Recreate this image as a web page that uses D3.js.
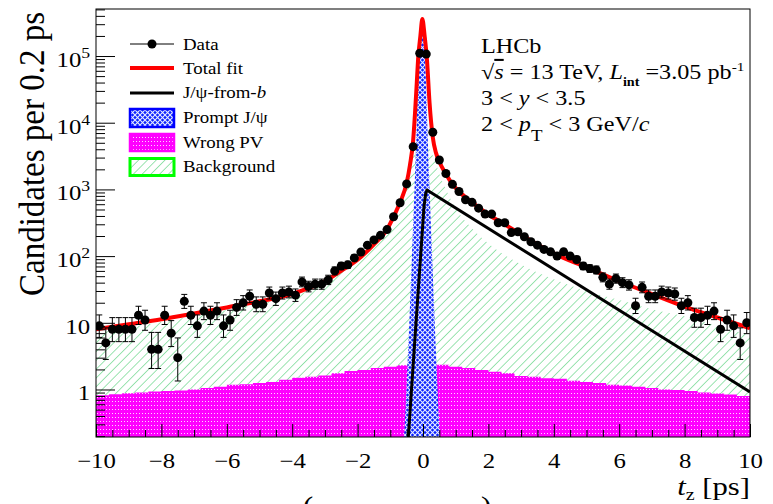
<!DOCTYPE html>
<html>
<head>
<meta charset="utf-8">
<script src="https://cdn.jsdelivr.net/npm/d3@7"></script>
<style>
  body { margin: 0; background: #fff; }
  svg { display: block; font-family: "Liberation Serif", "DejaVu Serif", serif; }
</style>
</head>
<body>
<script>
//-----------------Data----------------

// candidates per 0.2 ps bin, bins from -10 to 10 ps
const tzStart = -10;
const binWidth = 0.2;
const candidates = [
  9, 5, 8, 8, 8, 8, 13, 11, 4, 4,
  13, 7, 3, 21, 13, 9, 15, 13, 15, 9,
  11, 17, 20, 25, 19, 19, 28, 23, 28, 29,
  26, 41, 35, 38, 38, 44, 60, 71, 74, 94,
  115, 146, 175, 205, 250, 389, 630, 1210, 4380, 110000,
  107000, 7200, 2760, 1730, 1190, 930, 700, 640, 523, 427,
  427, 316, 316, 225, 232, 195, 164, 146, 126, 116,
  100, 116, 100, 89, 71, 65, 62, 48, 38, 46,
  40, 37, 18, 34, 25, 25, 29, 28, 27, 18,
  20, 12, 12, 13, 15, 8, 11, 9, 5, 10
];

// total fit
const fitT = [-10, -9, -8, -7, -6, -5, -4, -3.5, -3, -2.5, -2, -1.5, -1.1, -0.9, -0.7, -0.5, -0.4, -0.3, -0.24, -0.19, -0.15, -0.08, -0.02, 0.05, 0.12, 0.2, 0.3, 0.4, 0.5, 0.7, 0.9, 1.1, 1.5, 2, 2.5, 3, 3.5, 4, 5, 6, 7, 8, 9, 10];
const fitV = [8, 9.5, 11.3, 13.8, 17, 21, 27, 33, 42, 60, 88, 150, 250, 390, 640, 1250, 2300, 5500, 15000, 40000, 90000, 200000, 360000, 200000, 90000, 20000, 6000, 3500, 2600, 1700, 1200, 930, 640, 420, 300, 210, 150, 110, 68, 42, 27, 17.5, 12, 8.3];

// J/psi-from-b
const fromBT = [-0.55, -0.45, -0.25, -0.04, 0.03, 0.08, 0.12, 10];
const fromBV = [0.08, 0.19, 5.5, 172, 550, 850, 980, 0.92];

// prompt J/psi
const promptT = [-0.63, -0.58, -0.48, -0.38, -0.285, -0.21, -0.145, -0.1, -0.03, 0.04, 0.085, 0.15, 0.225, 0.32, 0.42, 0.52, 0.57];
const promptV = [0.08, 0.19, 2, 30, 490, 4900, 49000, 150000, 350000, 150000, 49000, 4900, 490, 30, 2, 0.19, 0.08];

// background
const bgT = [-10, -9, -8, -7, -6, -5, -4, -3, -2.5, -2, -1.5, -1, -0.7, -0.5, -0.4, -0.3, -0.2, -0.1, 0, 0.1, 0.2, 0.3, 0.4, 0.5, 0.7, 1, 1.5, 2, 3, 4, 5, 6, 7, 8, 9, 10];
const bgV = [6.9, 8.5, 10.3, 12.6, 15.5, 19.5, 25, 39, 57, 85, 145, 255, 600, 1200, 2000, 3200, 4300, 5000, 5000, 4600, 4000, 3200, 2400, 1700, 1000, 520, 260, 155, 75, 45, 30, 22, 16, 12.5, 9, 6.5];

// wrong PV, 0.4 ps bins
const wrongPvBin = 0.4;
const wrongPv = [
  0.82, 0.85, 0.88, 0.9, 0.93, 0.95, 0.97, 1.0, 1.05, 1.1,
  1.18, 1.2, 1.25, 1.3, 1.4, 1.5, 1.55, 1.62, 1.75, 1.9,
  1.96, 2.1, 2.2, 2.3, 2.45, 2.45, 2.35, 2.2, 2.1, 1.96,
  1.85, 1.75, 1.6, 1.55, 1.47, 1.45, 1.35, 1.3, 1.25, 1.18,
  1.15, 1.1, 1.05, 1.0, 0.98, 0.95, 0.9, 0.87, 0.84, 0.8
];

const xTicks = [-10, -8, -6, -4, -2, 0, 2, 4, 6, 8, 10];
const yTicks = [1, 10, 100, 1000, 10000, 100000];

//-----------------Main svg------------------

const width = 773;
const height = 504;
const plotLeft = 96, plotRight = 750, plotTop = 9, plotBottom = 437;
const stretch = 1.18; // glyphs in the picture are a bit wider than tall

const svg = d3.select("body").append("svg").attr("width", width).attr("height", height);

const x = d3.scaleLinear().domain([-10, 10]).range([plotLeft, plotRight]);
const y = d3.scaleLog().domain([0.194, 5.07e5]).range([plotBottom, plotTop]);

//-----------------Patterns------------------

const defs = svg.append("defs");

const hatch = defs.append("pattern").attr("id", "hatch").attr("patternUnits", "userSpaceOnUse")
  .attr("width", 6.2).attr("height", 6.2).attr("patternTransform", "rotate(45)");
hatch.append("line").attr("x1", 0).attr("y1", 0).attr("x2", 0).attr("y2", 6.2)
  .attr("stroke", "#36c862").attr("stroke-width", 1);

const blue = defs.append("pattern").attr("id", "blueX").attr("patternUnits", "userSpaceOnUse")
  .attr("width", 5).attr("height", 5);
blue.append("rect").attr("width", 5).attr("height", 5).attr("fill", "#0a22ff");
blue.append("path").attr("d", "M0,0L5,5M5,0L0,5").attr("stroke", "#e8ecff").attr("stroke-width", 1.1);

const pink = defs.append("pattern").attr("id", "pinkDots").attr("patternUnits", "userSpaceOnUse")
  .attr("width", 3).attr("height", 4);
pink.append("rect").attr("width", 3).attr("height", 4).attr("fill", "#ff00ff");
pink.append("rect").attr("x", 1).attr("y", 1).attr("width", 1).attr("height", 1).attr("fill", "#ffd6ff");

defs.append("clipPath").attr("id", "plotClip").append("rect")
  .attr("x", plotLeft).attr("y", plotTop).attr("width", plotRight - plotLeft).attr("height", plotBottom - plotTop);

//-----------------Curves------------------

const plot = svg.append("g").attr("clip-path", "url(#plotClip)");

const line = d3.line().x((d) => x(d[0])).y((d) => y(d[1])).curve(d3.curveMonotoneX);
const area = d3.area().x((d) => x(d[0])).y0(plotBottom).y1((d) => y(d[1])).curve(d3.curveMonotoneX);

plot.append("path").attr("d", area(d3.zip(bgT, bgV))).attr("fill", "url(#hatch)");

const pvPoints = wrongPv.map((v, i) => [tzStart + i * wrongPvBin, v]);
pvPoints.push([10, wrongPv[wrongPv.length - 1]]);
plot.append("path")
  .attr("d", d3.area().x((d) => x(d[0])).y0(plotBottom).y1((d) => y(d[1])).curve(d3.curveStepAfter)(pvPoints))
  .attr("fill", "url(#pinkDots)");

plot.append("path").attr("d", area(d3.zip(promptT, promptV))).attr("fill", "url(#blueX)");

// exponential decay is a straight line on the log axis
plot.append("path").attr("d", line.curve(d3.curveLinear)(d3.zip(fromBT, fromBV)))
  .attr("fill", "none").attr("stroke", "#000").attr("stroke-width", 3).attr("stroke-linejoin", "round");
line.curve(d3.curveMonotoneX);

plot.append("path").attr("d", line(d3.zip(fitT, fitV)))
  .attr("fill", "none").attr("stroke", "#f00").attr("stroke-width", 4);

//-----------------Data points------------------

const points = candidates.map((n, i) => ({
  t: tzStart + binWidth * (i + 0.5),
  n: n,
  lo: n - Math.sqrt(n - 0.25),
  hi: n + Math.sqrt(n + 0.75) + 1
}));

const pts = plot.append("g").attr("stroke", "#000").attr("stroke-width", 1);
points.forEach((p) => {
  const cx = x(p.t);
  pts.append("line").attr("x1", cx).attr("x2", cx).attr("y1", y(p.lo)).attr("y2", y(p.hi));
  pts.append("line").attr("x1", cx - 3).attr("x2", cx + 3).attr("y1", y(p.lo)).attr("y2", y(p.lo));
  pts.append("line").attr("x1", cx - 3).attr("x2", cx + 3).attr("y1", y(p.hi)).attr("y2", y(p.hi));
});
plot.append("g").selectAll("circle").data(points).enter().append("circle")
  .attr("cx", (d) => x(d.t)).attr("cy", (d) => y(d.n)).attr("r", 4.5).attr("fill", "#000");

//-----------------Axes------------------

svg.append("rect").attr("x", plotLeft).attr("y", plotTop).attr("width", plotRight - plotLeft).attr("height", plotBottom - plotTop)
  .attr("fill", "none").attr("stroke", "#000").attr("stroke-width", 1);

const xMinor = d3.range(-9.5, 10, 0.5).filter((v) => !xTicks.includes(v));
svg.append("g").attr("transform", `translate(0,${plotBottom})`)
  .call(d3.axisBottom(x).tickValues(xMinor).tickSize(-7).tickFormat(""))
  .call((g) => g.select(".domain").remove());

const xAxis = svg.append("g").attr("transform", `translate(0,${plotBottom})`)
  .call(d3.axisBottom(x).tickValues(xTicks).tickSize(-13).tickPadding(16))
  .call((g) => g.select(".domain").remove());
xAxis.selectAll("text").attr("font-size", 21).attr("font-family", "Liberation Serif")
  .attr("transform", `scale(${stretch},1)`);

const yMinor = [];
for (let e = -1; e <= 5; e++) {
  for (let k = 2; k <= 9; k++) {
    const v = k * Math.pow(10, e);
    if (v > 0.194 && v < 5.07e5) yMinor.push(v);
  }
}
svg.append("g").attr("transform", `translate(${plotLeft},0)`)
  .call(d3.axisLeft(y).tickValues(yMinor).tickSize(-9).tickFormat(""))
  .call((g) => g.select(".domain").remove());

const yAxis = svg.append("g").attr("transform", `translate(${plotLeft},0)`)
  .call(d3.axisLeft(y).tickValues(yTicks).tickSize(-19).tickPadding(5).tickFormat(""))
  .call((g) => g.select(".domain").remove());
yAxis.selectAll(".tick text").each(function (d) {
  const t = d3.select(this).attr("font-size", 21).attr("font-family", "Liberation Serif")
    .attr("dy", "0.5em").attr("transform", `scale(${stretch},1)`);
  const e = Math.round(Math.log10(d));
  if (e === 0) t.text("1");
  else if (e === 1) t.text("10");
  else {
    t.append("tspan").text("10");
    t.append("tspan").attr("font-size", 15).attr("dy", -9).text(e);
  }
});
svg.selectAll(".tick line").attr("stroke", "#000");

//-----------------Titles------------------

function label(px, py, size) {
  return svg.append("text").attr("transform", `translate(${px},${py}) scale(${stretch},1)`)
    .attr("font-size", size).attr("fill", "#000");
}

svg.append("text")
  .attr("transform", `translate(44,12) scale(1.08,1) rotate(-90)`)
  .attr("text-anchor", "end").attr("font-size", 33).text("Candidates per 0.2 ps");

const xTitle = label(750, 495, 26).attr("text-anchor", "end");
xTitle.append("tspan").attr("font-style", "italic").text("t");
xTitle.append("tspan").attr("font-size", 17).attr("dy", 5).text("z");
xTitle.append("tspan").attr("dy", -5).text(" [ps]");

// text cut off at the bottom edge, as in the picture
label(303, 514, 26).text("(");
label(481, 514, 26).text(")");

//-----------------Info text------------------

label(481, 53, 20.5).text("LHCb");

const l2 = label(481, 79, 20.5);
l2.append("tspan").text("√");
l2.append("tspan").attr("font-style", "italic").style("text-decoration", "overline").text("s");
l2.append("tspan").text(" = 13 TeV, ");
l2.append("tspan").attr("font-style", "italic").text("L");
l2.append("tspan").attr("font-size", 12).attr("font-weight", "bold").attr("dy", 7).text("int");
l2.append("tspan").attr("dy", -7).text(" =3.05 pb");
l2.append("tspan").attr("font-size", 13).attr("dy", -8).text("-1");

const l3 = label(481, 105, 20.5);
l3.append("tspan").text("3 < ");
l3.append("tspan").attr("font-style", "italic").text("y");
l3.append("tspan").text(" < 3.5");

const l4 = label(481, 131, 20.5);
l4.append("tspan").text("2 < ");
l4.append("tspan").attr("font-style", "italic").text("p");
l4.append("tspan").attr("font-size", 16).attr("dy", 10).text("T");
l4.append("tspan").attr("dy", -10).text(" < 3 GeV/");
l4.append("tspan").attr("font-style", "italic").text("c");

//-----------Legend--------------

const legend = svg.append("g").attr("id", "legend");
const mx0 = 130, mx1 = 174, tx = 183;

legend.append("line").attr("x1", mx0).attr("x2", mx1).attr("y1", 44).attr("y2", 44).attr("stroke", "#000");
legend.append("circle").attr("cx", (mx0 + mx1) / 2).attr("cy", 44).attr("r", 4.5).attr("fill", "#000");
legend.append("line").attr("x1", mx0).attr("x2", mx1).attr("y1", 68).attr("y2", 68).attr("stroke", "#f00").attr("stroke-width", 4);
legend.append("line").attr("x1", mx0).attr("x2", mx1).attr("y1", 93).attr("y2", 93).attr("stroke", "#000").attr("stroke-width", 3);
legend.append("rect").attr("x", mx0).attr("y", 109).attr("width", mx1 - mx0).attr("height", 18)
  .attr("fill", "url(#blueX)").attr("stroke", "#0000ff").attr("stroke-width", 2.5);
legend.append("rect").attr("x", mx0).attr("y", 134).attr("width", mx1 - mx0).attr("height", 17)
  .attr("fill", "url(#pinkDots)").attr("stroke", "#ff00ff").attr("stroke-width", 2.5);
legend.append("rect").attr("x", mx0).attr("y", 158.5).attr("width", mx1 - mx0).attr("height", 17)
  .attr("fill", "url(#hatch)").attr("stroke", "#00ff00").attr("stroke-width", 3);

const lsize = 16;
label(tx, 49.5, lsize).text("Data");
label(tx, 73.5, lsize).text("Total fit");
const lb = label(tx, 98, lsize);
lb.append("tspan").text("J/ψ-from-");
lb.append("tspan").attr("font-style", "italic").text("b");
label(tx, 123, lsize).text("Prompt J/ψ");
label(tx, 148, lsize).text("Wrong PV");
label(tx, 172, lsize).text("Background");
</script>
</body>
</html>
